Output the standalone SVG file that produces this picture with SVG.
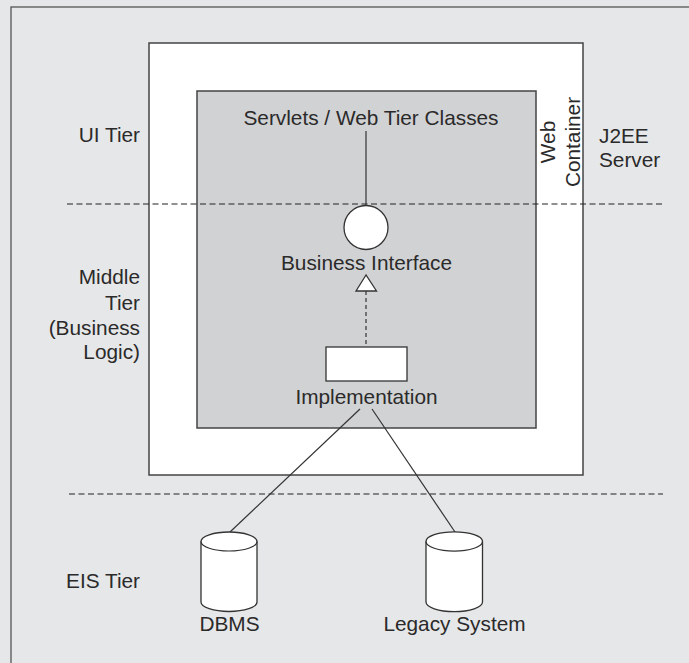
<svg xmlns="http://www.w3.org/2000/svg" width="689" height="663" viewBox="0 0 689 663">
  <defs>
    <style>
      .t { font-family: "Liberation Sans", Arial, sans-serif; font-size: 20.8px; fill: #2b2a2a; }
      .m { text-anchor: middle; }
      .r { text-anchor: end; }
      .box { stroke: #444; stroke-width: 1.5; }
      .tier { fill: none; stroke: #222; stroke-width: 1.2; stroke-dasharray: 6 3.5; }
      .conn { fill: none; stroke: #333; stroke-width: 1.2; }
      .shape { fill: #fff; stroke: #333; stroke-width: 1.3; }
    </style>
  </defs>
  <rect width="689" height="663" fill="#e6e7e8"/>
  <rect id="frame" x="11" y="7" width="700" height="680" fill="#e6e7e8" stroke="#555" stroke-width="1.3"/>

  <g id="j2ee-server">
    <rect class="box" x="149" y="43" width="434" height="432" fill="#fff"/>
    <text class="t" x="599" y="143">J2EE</text>
    <text class="t" x="599" y="167">Server</text>
  </g>

  <g id="web-container">
    <rect class="box" x="197" y="91" width="339" height="337" fill="#d1d2d4"/>
    <text class="t m" transform="translate(555 142) rotate(-90)">Web</text>
    <text class="t m" transform="translate(580 142) rotate(-90)">Container</text>
  </g>

  <g id="tier-labels">
    <text class="t r" x="140" y="142">UI Tier</text>
    <text class="t r" x="140" y="284">Middle</text>
    <text class="t r" x="140" y="310">Tier</text>
    <text class="t r" x="140" y="335">(Business</text>
    <text class="t r" x="140" y="359">Logic)</text>
    <text class="t r" x="140" y="588">EIS Tier</text>
  </g>

  <g id="tier-boundaries">
    <line class="tier" x1="67" y1="204" x2="663" y2="204"/>
    <line class="tier" x1="69" y1="494" x2="663" y2="494"/>
  </g>

  <g id="connectors">
    <line class="conn" x1="366" y1="131" x2="366" y2="205.5"/>
    <line class="conn" x1="366" y1="291" x2="366" y2="347" stroke-dasharray="4 3"/>
    <line class="conn" x1="360" y1="409" x2="230" y2="532"/>
    <line class="conn" x1="372" y1="409" x2="455" y2="532"/>
  </g>

  <g id="servlets">
    <text class="t m" x="371" y="125">Servlets / Web Tier Classes</text>
  </g>

  <g id="business-interface">
    <circle class="shape" cx="366" cy="227.5" r="22"/>
    <text class="t m" x="366.5" y="270">Business Interface</text>
  </g>

  <g id="realization-arrow">
    <polygon class="shape" points="366,275 356,291 376.5,291"/>
  </g>

  <g id="implementation">
    <rect class="shape" x="326" y="347" width="81" height="34"/>
    <text class="t m" x="366.5" y="404">Implementation</text>
  </g>

  <g id="dbms">
    <path class="shape" d="M201,541.5 A28,9.5 0 0 1 257,541.5 L257,602 A28,9.5 0 0 1 201,602 Z"/>
    <path class="conn" d="M201,541.5 A28,9.5 0 0 0 257,541.5"/>
    <text class="t m" x="229.5" y="631">DBMS</text>
  </g>

  <g id="legacy-system">
    <path class="shape" d="M426,541.5 A28,9.5 0 0 1 482.5,541.5 L482.5,602 A28,9.5 0 0 1 426,602 Z"/>
    <path class="conn" d="M426,541.5 A28,9.5 0 0 0 482.5,541.5"/>
    <text class="t m" x="454.5" y="631">Legacy System</text>
  </g>
</svg>
